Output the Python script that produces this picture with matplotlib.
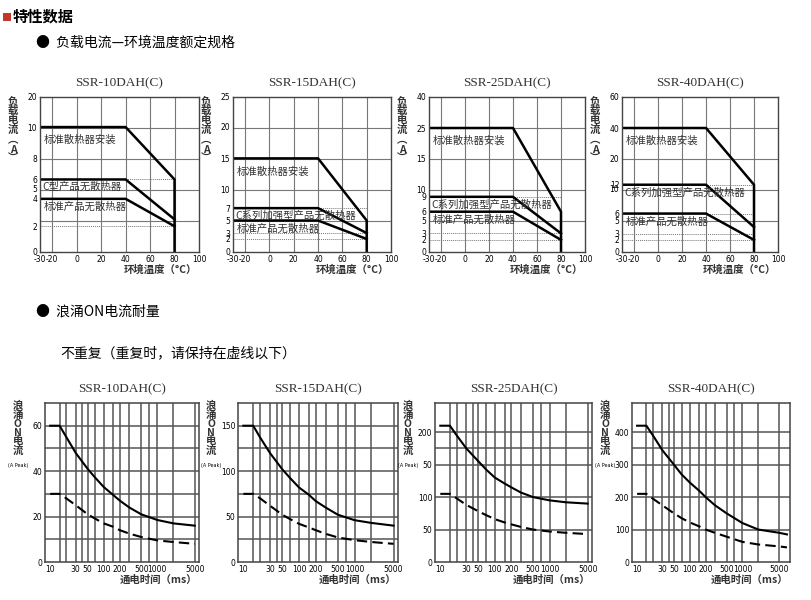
import numpy as np
import matplotlib.pyplot as plt
from matplotlib.patches import Rectangle

CJK = "Noto Sans CJK SC"
SERIF = "Liberation Serif"

# ── Data: load current vs ambient temperature ────────────
MODELS = ["SSR-10DAH(C)", "SSR-15DAH(C)", "SSR-25DAH(C)", "SSR-40DAH(C)"]
TEMP = [-30, 40, 80]
TEMP_TICKS = [-30, -20, 0, 20, 40, 60, 80, 100]

# non-uniform y axes: tick value -> fraction of axis height
Y_VALS = [
    [0, 2, 4, 5, 6, 8, 10, 20],
    [0, 2, 3, 5, 7, 10, 15, 20, 25],
    [0, 2, 3, 5, 6, 9, 10, 15, 25, 40],
    [0, 2, 3, 5, 6, 10, 12, 20, 40, 60],
]
Y_POS = [
    [0, 0.166, 0.343, 0.407, 0.468, 0.603, 0.806, 1.0],
    [0, 0.084, 0.122, 0.203, 0.283, 0.40, 0.604, 0.807, 1.0],
    [0, 0.078, 0.12, 0.205, 0.26, 0.356, 0.405, 0.60, 0.80, 1.0],
    [0, 0.078, 0.117, 0.205, 0.248, 0.407, 0.434, 0.60, 0.80, 1.0],
]
HEATSINK = [[10, 10, 6], [15, 15, 5], [25, 25, 6], [40, 40, 12]]
C_TYPE = [[6, 6, 2.5], [7, 7, 3], [9, 9, 3], [12, 12, 4]]
STD_BARE = [[4, 4, 2], [5, 5, 2], [6, 6, 2], [6, 6, 2]]
DOTTED = [[6, 2], [7, 3, 2], [9, 3, 2], [12, 6, 3, 2]]
C_LABEL = ["C型产品无散热器", "C系列加强型产品无散热器",
           "C系列加强型产品无散热器", "C系列加强型产品无散热器"]

# ── Data: surge ON current vs time ───────────────────────
T_MS = [10, 15, 20, 30, 50, 70, 100, 150, 200, 300, 500, 1000, 2000, 5000]
T_MS_40 = T_MS + [7000]
SURGE = [
    [60, 60, 55, 48, 41, 37, 33, 29.5, 27, 24, 21, 18.5, 17, 16],
    [150, 150, 137, 120, 102, 92, 82, 74, 67, 60, 52, 46, 43, 40],
    [210, 210, 195, 175, 155, 142, 130, 121, 115, 107, 100, 95, 92, 90],
    [420, 420, 390, 345, 300, 270, 245, 220, 200, 175, 150, 120, 100, 90, 85],
]
SURGE_REP = [
    [30, 30, 28, 25, 21, 19, 17, 15.5, 14, 12.5, 11, 9.5, 8.8, 8],
    [75, 75, 70, 62, 52, 47, 42, 38, 35, 31, 27, 24, 22, 20],
    [105, 105, 98, 88, 78, 72, 66, 61, 58, 54, 50, 47, 45, 43],
    [210, 210, 195, 175, 150, 135, 122, 110, 100, 90, 78, 62, 54, 48, 45],
]
S_YMAX = [70, 175, 245, 490]
S_YTICKS = [[0, 20, 40, 60], [0, 50, 100, 150], [0, 50, 100, 150, 200],
            [0, 100, 200, 300, 400]]
S_YTICKLABELS = [["0", "20", "40", "60"], ["0", "50", "100", "150"],
                 ["0", "50", "100", "50", "200"], ["0", "100", "200", "300", "400"]]
S_HGRID = [list(range(10, 70, 10)), list(range(25, 175, 25)),
           [50, 100, 150, 175, 200], [100, 200, 300, 350, 400]]
S_XTICKS = [10, 30, 50, 100, 200, 500, 1000, 5000]
S_VGRID = [15, 20, 30, 40, 50, 70, 100, 150, 200, 300, 500, 700, 1000, 2000, 5000]

W, H = 811, 600
fig = plt.figure(figsize=(W / 100, H / 100), dpi=100)
fig.patch.set_facecolor("white")

def px_axes(x0, y0, x1, y1):
    return fig.add_axes([x0 / W, 1 - y1 / H, (x1 - x0) / W, (y1 - y0) / H])

def fx(x):
    return x / W

def fy(y):
    return 1 - y / H

# header
fig.patches.append(Rectangle((fx(3), fy(21)), 8 / W, 8 / H, transform=fig.transFigure,
                             facecolor="#c0392b", edgecolor="none"))
fig.text(fx(13), fy(17), "特性数据", fontfamily=CJK, fontsize=11, fontweight="bold", va="center")
fig.text(fx(36), fy(43), "●  负载电流—环境温度额定规格", fontfamily=CJK, fontsize=10, va="center")
fig.text(fx(36), fy(312), "●  浪涌ON电流耐量", fontfamily=CJK, fontsize=10, va="center")
fig.text(fx(60), fy(353), "不重复（重复时，请保持在虚线以下）", fontfamily=CJK, fontsize=10, va="center")

# ── Top row ──────────────────────────────────────────────
TOP_X = [(40, 199), (233, 391), (429, 585), (622, 778)]
for i in range(4):
    x0, x1 = TOP_X[i]
    ax = px_axes(x0, 97, x1, 252)
    yv, yp = Y_VALS[i], Y_POS[i]
    m = lambda v: np.interp(v, yv, yp)
    ax.set_xlim(-30, 100)
    ax.set_ylim(0, 1)
    for g in [-20, 0, 20, 40, 60, 80]:
        ax.axvline(g, color="#777777", lw=0.8)
    for g in [0.2, 0.4, 0.6, 0.8]:
        ax.axhline(g, color="#777777", lw=0.8)
    for d in DOTTED[i]:
        ax.plot([-30, 80], [m(d), m(d)], color="#777777", lw=0.7, ls=(0, (1, 1)))
    ax.plot(TEMP + [80], m(HEATSINK[i] + [0]), color="black", lw=1.8)
    ax.plot(TEMP, m(C_TYPE[i]), color="black", lw=1.8)
    ax.plot(TEMP, m(STD_BARE[i]), color="black", lw=1.8)
    ax.text(-27, m(HEATSINK[i][0]) - 0.05, "标准散热器安装", fontfamily=CJK, fontsize=7.5,
            va="top", color="#333333")
    ax.text(-28, m(C_TYPE[i][0]) - 0.015, C_LABEL[i], fontfamily=CJK, fontsize=7.5,
            va="top", color="#333333")
    ax.text(-27, m(STD_BARE[i][0]) - 0.02, "标准产品无散热器", fontfamily=CJK, fontsize=7.5,
            va="top", color="#333333")
    ax.set_xticks(TEMP_TICKS)
    ax.set_xticklabels([str(t) for t in TEMP_TICKS], fontsize=5.5)
    ax.set_yticks(m(yv))
    ax.set_yticklabels([str(v) for v in yv], fontsize=5.5)
    ax.tick_params(length=0, pad=2)
    for s in ax.spines.values():
        s.set_color("#444444")
        s.set_linewidth(1.0)
    ax.set_title(MODELS[i], fontfamily=SERIF, fontsize=9.5, color="#333333", pad=8)
    fig.text(fx(x1 - 2), fy(270), "环境温度（°C）", fontfamily=CJK, fontsize=7.5,
             ha="right", va="center", fontweight="bold", color="#333333")
    fig.text(fx(x0 - 27), fy(96), "负\n载\n电\n流\n︵\nA\n︶", fontfamily=CJK, fontsize=7.5,
             ha="center", va="top", linespacing=0.95, fontweight="bold", color="#333333")

# ── Bottom row ───────────────────────────────────────────
BOT_X = [(45, 199), (238, 398), (435, 592), (632, 790)]
for i in range(4):
    x0, x1 = BOT_X[i]
    ax = px_axes(x0, 403, x1, 562)
    ts = T_MS_40 if i == 3 else T_MS
    ax.set_xscale("log")
    ax.set_xlim(8, 8000 if i == 3 else 6000)
    ax.set_ylim(0, S_YMAX[i])
    for g in S_VGRID:
        ax.axvline(g, color="#555555", lw=1.1)
    for g in S_HGRID[i]:
        ax.axhline(g, color="#555555", lw=1.1)
    ax.plot(ts, SURGE[i], color="black", lw=1.5)
    ax.plot(ts, SURGE_REP[i], color="black", lw=1.5, ls=(0, (5, 2.5)))
    ax.set_xticks(S_XTICKS)
    ax.set_xticklabels([str(t) for t in S_XTICKS], fontsize=5.5)
    ax.minorticks_off()
    ax.set_yticks(S_YTICKS[i])
    ax.set_yticklabels(S_YTICKLABELS[i], fontsize=5.5)
    ax.tick_params(length=0, pad=2)
    for s in ax.spines.values():
        s.set_color("#444444")
        s.set_linewidth(1.1)
    ax.set_title(MODELS[i], fontfamily=SERIF, fontsize=9.5, color="#333333", pad=8)
    fig.text(fx(x1 - 2), fy(580), "通电时间（ms）", fontfamily=CJK, fontsize=7.5,
             ha="right", va="center", fontweight="bold", color="#333333")
    fig.text(fx(x0 - 27), fy(401), "浪\n涌\nO\nN\n电\n流", fontfamily=CJK, fontsize=7.5,
             ha="center", va="top", linespacing=0.85, fontweight="bold", color="#333333")
    fig.text(fx(x0 - 27), fy(466), "(A Peak)", fontsize=3.5, ha="center", va="center")

fig.savefig("out.png", dpi=100)
